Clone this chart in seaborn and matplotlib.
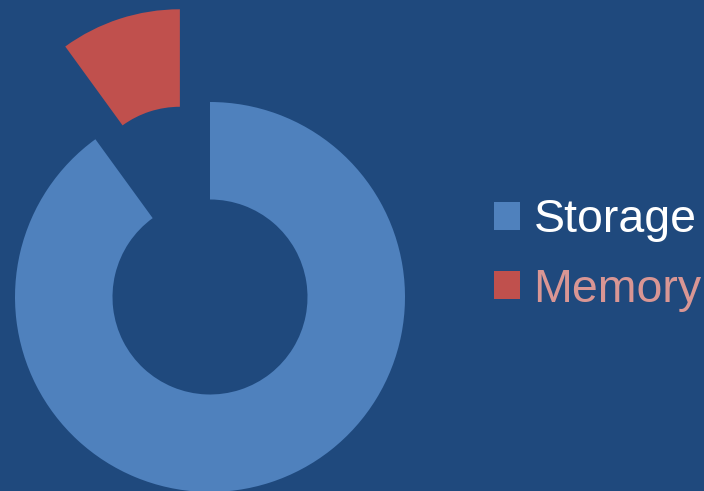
import matplotlib
matplotlib.use("Agg")
import matplotlib.pyplot as plt
from matplotlib.patches import Patch
import seaborn as sns

# Share of capacity by component
categories = ["Storage", "Memory"]
shares = [90, 10]
explode_amounts = [0.0, 0.5]

slice_colors = ["#4F81BD", "#C0504D"]
label_colors = ["#FFFFFF", "#D99694"]
background = "#1F497D"

sns.set_theme(style="white")
plt.rcParams["font.family"] = ["Liberation Sans", "DejaVu Sans"]

W, H, DPI = 704, 491, 100
fig = plt.figure(figsize=(W / DPI, H / DPI), dpi=DPI, facecolor=background)
ax = fig.add_axes([0, 0, 1, 1])
ax.set_facecolor(background)

wedges, _ = ax.pie(
    shares,
    colors=slice_colors,
    explode=explode_amounts,
    startangle=90,
    counterclock=False,
    radius=1.0,
    wedgeprops=dict(width=0.5, linewidth=0),
)

# Place the ring: centre at (210, 297) px from top, radius 195 px
cx, cy, r = 210, H - 297, 195
ax.set_xlim(-cx / r, (W - cx) / r)
ax.set_ylim(-cy / r, (H - cy) / r)
ax.set_aspect("auto")
ax.axis("off")

handles = [Patch(facecolor=c, edgecolor="none") for c in slice_colors]
leg = fig.legend(
    handles, categories,
    loc="center left",
    bbox_to_anchor=(494 / W, 1 - 255 / H),
    frameon=False,
    fontsize=33.5,
    handlelength=0.55,
    handleheight=0.55,
    handletextpad=0.3,
    labelspacing=0.55,
    borderpad=0,
    borderaxespad=0,
)
for txt, col in zip(leg.get_texts(), label_colors):
    txt.set_color(col)

fig.savefig("out.png", dpi=DPI, facecolor=background)
